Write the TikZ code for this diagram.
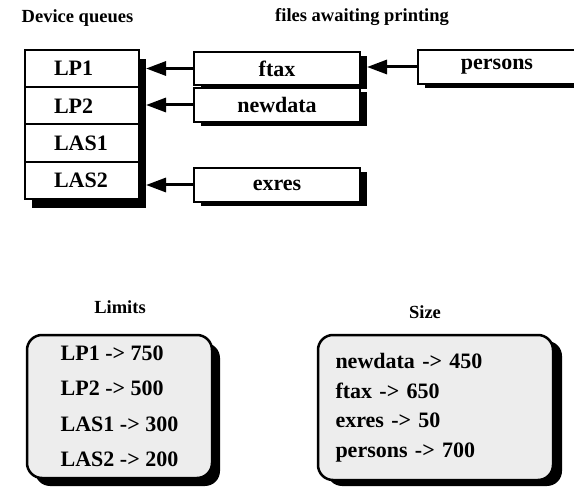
\documentclass[tikz,border=0pt]{standalone}
\usepackage{fontspec}
\setmainfont{Liberation Serif}
\usetikzlibrary{positioning,arrows.meta,shadows}

\begin{document}
\begin{tikzpicture}[x=1pt,y=-1pt,
  head/.style={font=\fontsize{18.5}{22}\selectfont\bfseries, inner sep=0pt},
  qrow/.style={draw, line width=2pt, fill=white, outer sep=0pt,
    minimum width=114pt, minimum height=37.3pt, text width=56pt, inner xsep=29pt,
    align=left, font=\fontsize{22}{26}\selectfont\bfseries,
    drop shadow={shadow xshift=7pt, shadow yshift=-9pt, opacity=1, fill=black}},
  filebox/.style={draw, line width=2pt, fill=white, outer sep=0pt,
    minimum height=34pt, font=\fontsize{22}{26}\selectfont\bfseries,
    drop shadow={shadow xshift=7pt, shadow yshift=-4pt, opacity=1, fill=black}},
  listbox/.style={draw, line width=2.5pt, fill=black!7, rounded corners=15pt,
    align=left, font=\bfseries},
  feed/.style={line width=3pt, -{Triangle[length=20pt,width=14pt]}}]

\useasboundingbox (0,0) rectangle (574,487);
\clip (0,0) rectangle (574,487);

% Headings
\node[head, anchor=base west] (qhead) at (21.5,23) {Device queues};
\node[head, anchor=base west] (fhead) at (275,22) {files awaiting printing};
\node[head, anchor=base] (lhead) at (120,313) {Limits};
\node[head, anchor=base] (shead) at (425,318) {Size};

% Device queues
\node[qrow] (lp1) at (82,68.5) {LP1};
\node[qrow, below=0pt of lp1] (lp2) {LP2};
\node[qrow, below=0pt of lp2] (las1) {LAS1};
\node[qrow, below=0pt of las1] (las2) {LAS2};

% Files awaiting printing
\node[filebox, minimum width=166pt, minimum height=33pt] (ftax) at (277,68.5) {ftax};
\node[filebox, minimum width=166pt, below=3pt of ftax] (newdata) {newdata};
\node[filebox, minimum width=166pt] (exres) at (277,185) {exres};
\node[filebox, minimum width=158pt] (persons) at (497,67) {persons};

% Arrow ends, just past the shadows
\coordinate (qend) at ([xshift=7pt]lp1.east);
\coordinate (fend) at ([xshift=7pt]ftax.east);

% Arrows
\draw[feed] (ftax.west) -- (ftax.west -| qend);
\draw[feed] (newdata.west) -- (newdata.west -| qend);
\draw[feed] (exres.west) -- (exres.west -| qend);
\draw[feed] (persons.west) -- (persons.west -| fend);

% Limits
\node[listbox, minimum width=185pt, minimum height=143pt,
  font=\fontsize{22}{35.5}\selectfont\bfseries,
  drop shadow={shadow xshift=8pt, shadow yshift=-8pt, opacity=1, fill=black}]
  (limits) at (119.5,406.5) {LP1 -> 750\\LP2 -> 500\\LAS1 -> 300\\LAS2 -> 200};

% Size
\node[listbox, minimum width=235pt, minimum height=145pt, text width=200pt,
  font=\fontsize{22}{29.5}\selectfont\bfseries,
  drop shadow={shadow xshift=9pt, shadow yshift=-6pt, opacity=1, fill=black}]
  (size) at (435.5,407.5) {newdata -> 450\\ftax -> 650\\exres -> 50\\persons -> 700};

\end{tikzpicture}
\end{document}
